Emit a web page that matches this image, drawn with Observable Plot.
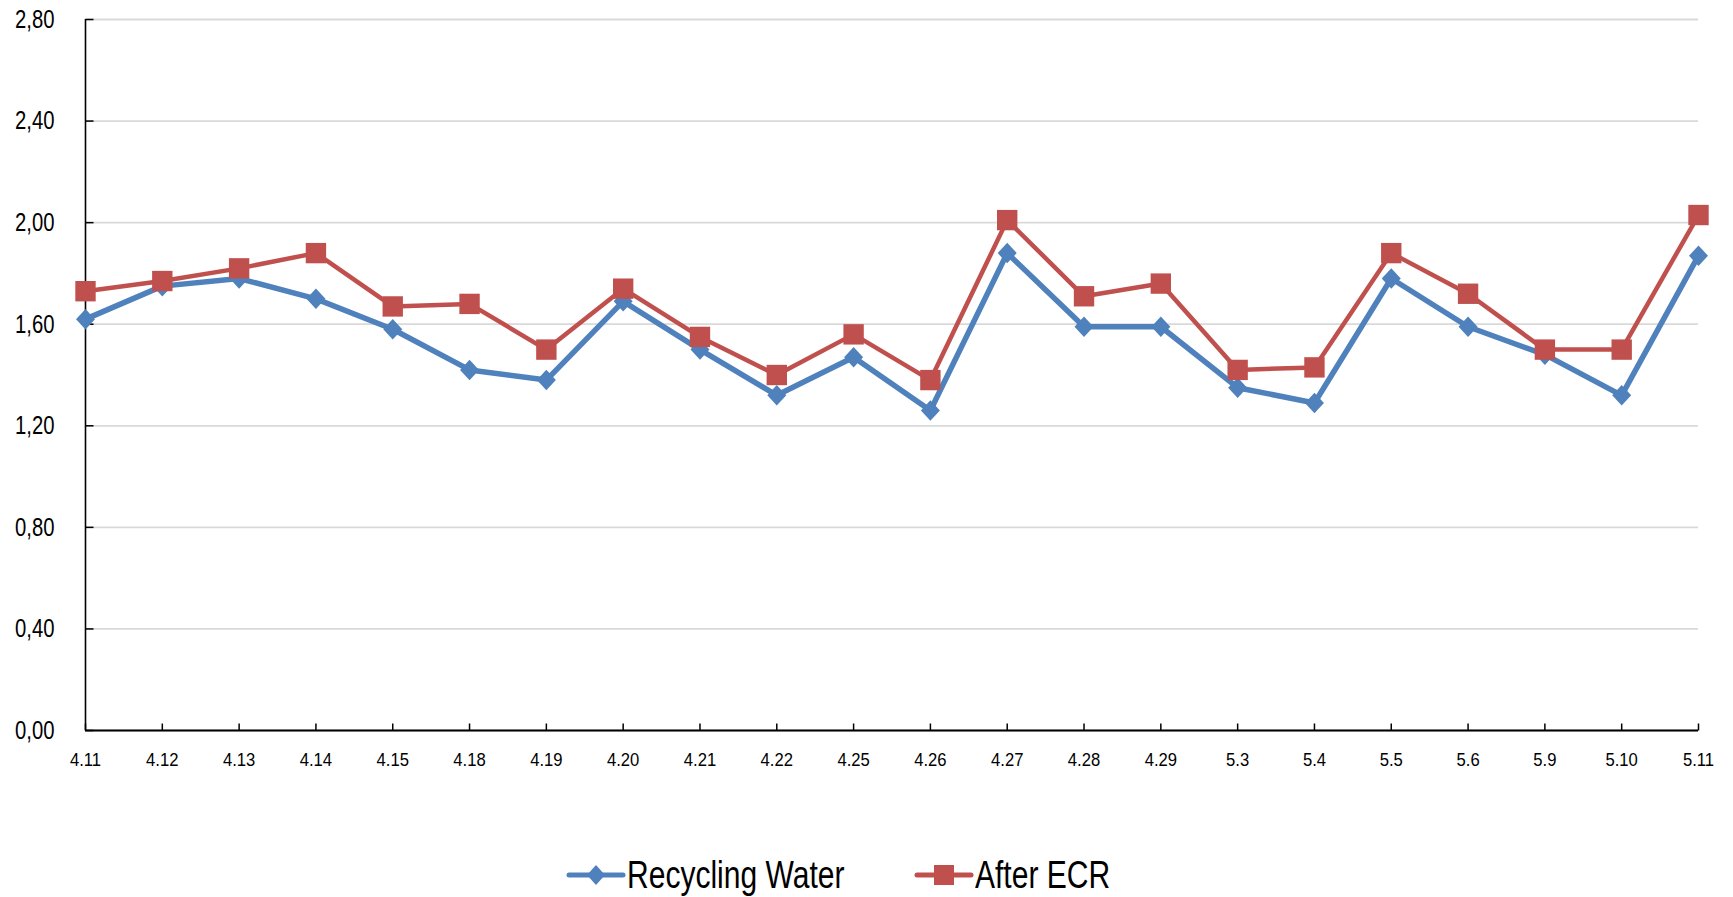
<!DOCTYPE html>
<html>
<head>
<meta charset="utf-8">
<script src="https://cdn.jsdelivr.net/npm/d3@7"></script>
<script src="https://cdn.jsdelivr.net/npm/@observablehq/plot@0.6"></script>
<style>
  html, body { margin: 0; padding: 0; background: #fff; overflow: hidden; }
  #wrap { position: relative; width: 1733px; height: 897px; overflow: hidden; }
  #chart svg { display: block; }
  .item { position: absolute; top: 856px; height: 38px; display: flex; align-items: center; white-space: nowrap; font-family: "Liberation Sans", Arial, sans-serif; font-size: 38px; line-height: 38px; color: #000; }
  .item svg { display: block; }
  .item span { display: inline-block; transform: scaleX(0.79); transform-origin: 0 50%; }
</style>
</head>
<body>
<div id="wrap">
  <div id="chart"></div>
</div>
<script>
const dates = ["4.11","4.12","4.13","4.14","4.15","4.18","4.19","4.20","4.21","4.22","4.25","4.26","4.27","4.28","4.29","5.3","5.4","5.5","5.6","5.9","5.10","5.11"];
const recyclingWater = [1.62,1.75,1.78,1.70,1.58,1.42,1.38,1.69,1.50,1.32,1.47,1.26,1.88,1.59,1.59,1.35,1.29,1.78,1.59,1.48,1.32,1.87];
const afterECR = [1.73,1.77,1.82,1.88,1.67,1.68,1.50,1.74,1.55,1.40,1.56,1.38,2.01,1.71,1.76,1.42,1.43,1.88,1.72,1.50,1.50,2.03];
const yTicks = [0,0.4,0.8,1.2,1.6,2.0,2.4,2.8];
const seriesNames = ["Recycling Water","After ECR"];
const colors = ["#4F81BD","#C0504D"];

const rw = dates.map((d,i) => ({date: d, value: recyclingWater[i]}));
const ae = dates.map((d,i) => ({date: d, value: afterECR[i]}));

const tickRight = {draw(ctx){ ctx.moveTo(0,0); ctx.lineTo(8,0); }};
const tickUp = {draw(ctx){ ctx.moveTo(0,0); ctx.lineTo(0,-7); }};
const diamond = {draw(ctx, size){
  const k = Math.sqrt(size / Math.PI);
  ctx.moveTo(0, -1.08 * k); ctx.lineTo(k, 0); ctx.lineTo(0, 1.08 * k); ctx.lineTo(-k, 0); ctx.closePath();
}};

const plot = Plot.plot({
  width: 1733,
  height: 800,
  marginLeft: 85,
  marginRight: 35,
  marginTop: 19,
  marginBottom: 70,
  style: {background: "#fff", overflow: "visible"},
  x: {type: "point", domain: dates, padding: 0, round: false},
  y: {domain: [0, 2.8]},
  marks: [
    Plot.gridY(yTicks, {stroke: "#d9d9d9", strokeOpacity: 1, strokeWidth: 1.8}),
    Plot.axisY(yTicks, {tickSize: 0, tickPadding: 31, tickFormat: d => d.toFixed(2).replace(".", ","), fontSize: 26, fontFamily: "Liberation Sans, Arial, sans-serif", fill: "#000", label: null}),
    Plot.axisX({tickSize: 0, tickPadding: 22, fontSize: 18.5, fontFamily: "Liberation Sans, Arial, sans-serif", fill: "#000", label: null}),
    Plot.dot(yTicks, {x: () => dates[0], y: d => d, symbol: tickRight, stroke: "#000", strokeWidth: 1.5, fill: "none", r: 4}),
    Plot.dot(dates, {x: d => d, y: () => 0, symbol: tickUp, stroke: "#000", strokeWidth: 1.5, fill: "none", r: 4}),
    Plot.ruleX([dates[0]], {y1: 0, y2: 2.8, stroke: "#000", strokeWidth: 1.6}),
    Plot.ruleY([0], {stroke: "#000", strokeWidth: 1.8}),
    Plot.line(rw, {x: "date", y: "value", stroke: colors[0], strokeWidth: 5.5}),
    Plot.line(ae, {x: "date", y: "value", stroke: colors[1], strokeWidth: 4.5}),
    Plot.dot(rw, {x: "date", y: "value", symbol: diamond, fill: colors[0], stroke: "none", r: 9.5}),
    Plot.dot(ae, {x: "date", y: "value", symbol: "square", fill: colors[1], stroke: "none", r: 11.5})
  ]
});

// horizontally condense axis tick labels (the reference text is narrow)
function squeeze(selector, s) {
  plot.querySelectorAll(selector).forEach(el => {
    const t = el.getAttribute("transform");
    if (t) el.setAttribute("transform", `${t} scale(${s},1)`);
  });
}
squeeze('g[aria-label="y-axis tick label"] text', 0.78);
squeeze('g[aria-label="x-axis tick label"] text', 0.9);

document.getElementById("chart").appendChild(plot);

const wrap = document.getElementById("wrap");
const items = [
  {name: seriesNames[0], color: colors[0], shape: "diamond", left: 565},
  {name: seriesNames[1], color: colors[1], shape: "square", left: 913}
];
for (const it of items) {
  const div = document.createElement("div");
  div.className = "item";
  div.style.left = it.left + "px";
  const marker = it.shape === "diamond"
    ? `<path d="M31,10 L40,20 L31,30 L22,20 Z" fill="${it.color}"/>`
    : `<rect x="21" y="10" width="20" height="20" fill="${it.color}"/>`;
  div.innerHTML = `<svg width="62" height="40"><line x1="4" y1="20" x2="58" y2="20" stroke="${it.color}" stroke-width="5" stroke-linecap="round"/>${marker}</svg><span>${it.name}</span>`;
  wrap.appendChild(div);
}
</script>
</body>
</html>
